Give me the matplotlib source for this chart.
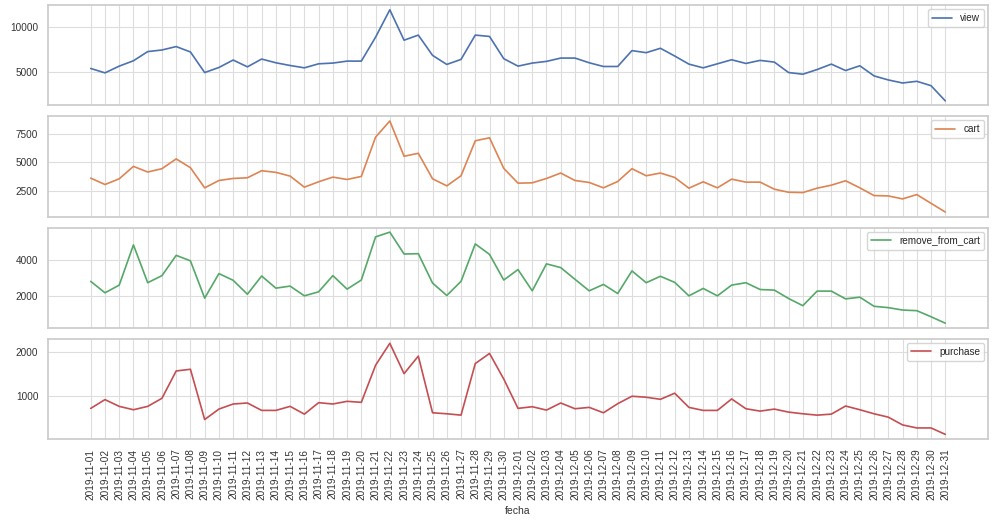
import matplotlib
matplotlib.use("Agg")
import matplotlib.pyplot as plt
import seaborn as sns
import pandas as pd
from matplotlib.ticker import MultipleLocator

sns.set_theme(style="whitegrid")
plt.rcParams['font.family'] = ['Liberation Sans', 'DejaVu Sans']

fechas = [d.strftime("%Y-%m-%d") for d in pd.date_range("2019-11-01", "2019-12-31")]

view = [5380, 4890, 5640, 6240, 7260, 7440, 7820, 7220, 4925, 5490,
        6320, 5560, 6430, 6015, 5710, 5450, 5900, 5980, 6200, 6200,
        8870, 11920, 8530, 9100, 6840, 5830, 6390, 9100, 8950, 6470,
        5640, 5980, 6170, 6540, 6540, 6015, 5600, 5600, 7370, 7140,
        7630, 6770, 5865, 5450, 5900, 6350, 5940, 6280, 6090, 4925,
        4740, 5260, 5865, 5150, 5680, 4550, 4100, 3760, 3950, 3460, 1770]

cart = [3600, 3035, 3540, 4640, 4140, 4435, 5300, 4525, 2740, 3390,
        3570, 3630, 4255, 4110, 3780, 2800, 3275, 3690, 3480, 3750,
        7230, 8660, 5535, 5800, 3540, 2915, 3810, 6905, 7170, 4465,
        3155, 3185, 3570, 4050, 3390, 3215, 2740, 3300, 4435, 3810,
        4050, 3660, 2710, 3275, 2740, 3510, 3245, 3245, 2620, 2350,
        2320, 2710, 2975, 3365, 2740, 2055, 2025, 1760, 2145, 1370, 600]

remove_from_cart = [2830, 2190, 2620, 4870, 2755, 3150, 4285, 3980, 1890, 3265,
                    2890, 2110, 3130, 2450, 2565, 2020, 2245, 3150, 2395, 2905,
                    5320, 5585, 4360, 4380, 2735, 2040, 2830, 4925, 4340, 2905,
                    3490, 2300, 3810, 3600, 2945, 2300, 2660, 2150, 3415, 2755,
                    3115, 2775, 2020, 2435, 2020, 2620, 2755, 2375, 2340, 1870,
                    1470, 2285, 2285, 1850, 1945, 1435, 1360, 1225, 1190, 850, 490]

purchase = [708, 908, 754, 677, 754, 938, 1561, 1600, 454, 692,
            808, 831, 662, 662, 754, 577, 838, 808, 869, 846,
            1692, 2192, 1500, 1900, 608, 585, 554, 1730, 1961, 1377,
            708, 746, 669, 831, 700, 731, 608, 815, 985, 962,
            915, 1054, 731, 662, 662, 923, 700, 646, 692, 623,
            585, 554, 577, 762, 677, 585, 508, 331, 262, 262, 116]

series = [("view", view, "#4C72B0", 5000),
          ("cart", cart, "#DD8452", 2500),
          ("remove_from_cart", remove_from_cart, "#55A868", 2000),
          ("purchase", purchase, "#C44E52", 1000)]

fig, axes = plt.subplots(4, 1, figsize=(10, 5.25), dpi=100, sharex=True)
fig.subplots_adjust(left=0.048, right=0.988, top=0.990, bottom=0.164, hspace=0.11)

for ax, (name, vals, color, step) in zip(axes, series):
    ax.plot(fechas, vals, color=color, lw=1.2, label=name)
    ax.yaxis.set_major_locator(MultipleLocator(step))
    ax.tick_params(axis='both', labelsize=7.2, pad=7, length=0, labelcolor="#333333")
    ax.legend(loc="upper right", fontsize=7.2, frameon=True, borderaxespad=0.4)
    for s in ax.spines.values():
        s.set_color("#cccccc")
    ax.grid(True, color="#dddddd", lw=0.8)

axes[-1].tick_params(axis='x', labelrotation=90)
axes[-1].set_xlabel("fecha", fontsize=7.5, color="#333333")

fig.savefig("out.png", dpi=100)
